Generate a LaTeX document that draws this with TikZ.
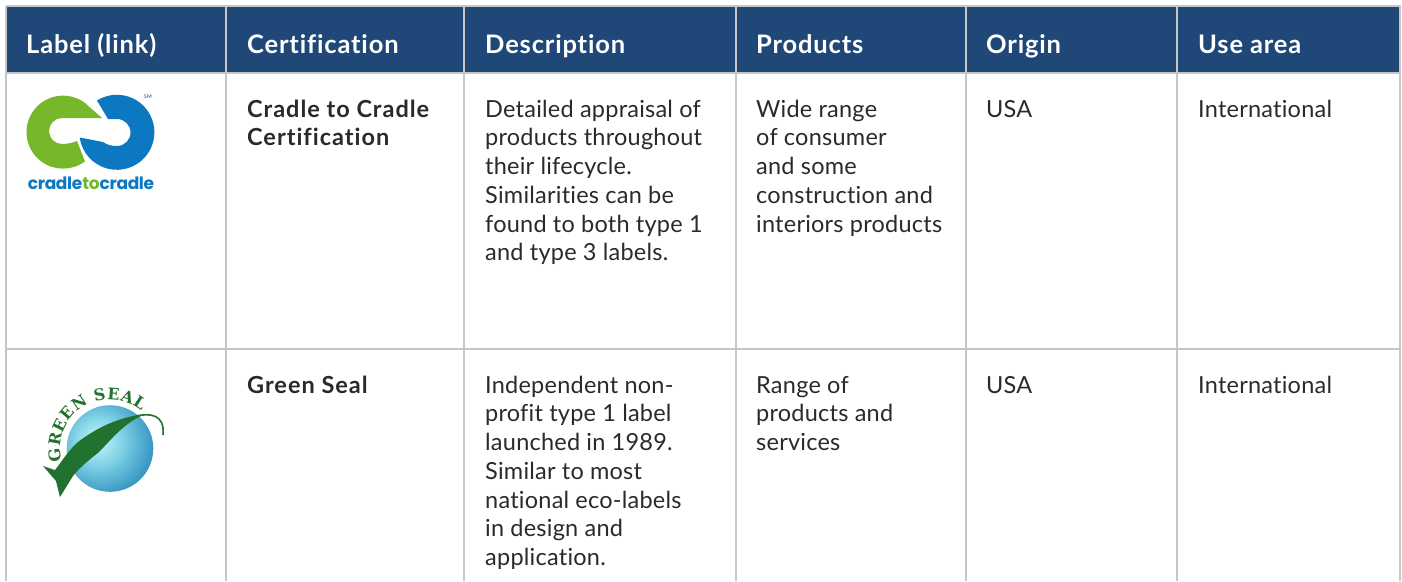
\documentclass[tikz,border=0pt]{standalone}
\usepackage{fontspec}
\setmainfont[Ligatures=NoCommon,LetterSpace=1]{Lato}
\newfontfamily\headf[Ligatures=NoCommon,LetterSpace=3.3]{Lato}
\newfontfamily\boldf[Ligatures=NoCommon,LetterSpace=4.2]{Lato}
\newfontfamily\logof[LetterSpace=-2]{Poppins}
\newfontfamily\sealf{DejaVu Serif}
\usetikzlibrary{decorations.text}
\definecolor{hdr}{HTML}{1F4878}
\definecolor{rulec}{HTML}{C4C6C8}
\definecolor{ink}{HTML}{2A2A2C}
\definecolor{cgreen}{HTML}{76B82A}
\definecolor{cblue}{HTML}{0C78C2}
\definecolor{sgreen}{HTML}{22722F}
\definecolor{globea}{HTML}{CCF4FA}
\definecolor{globeb}{HTML}{84D6E8}
\definecolor{globec}{HTML}{3A98C4}
\definecolor{globed}{HTML}{155F92}
\pgfdeclareradialshading{globeshade}{\pgfpoint{-8bp}{5bp}}{
  color(0bp)=(globea);
  color(13bp)=(globeb);
  color(30bp)=(globec);
  color(52bp)=(globed);
  color(100bp)=(globed)}
\tikzset{
  headtext/.style={anchor=base west,inner sep=0pt,text=white,font=\headf\fontsize{25.5}{28}\selectfont\bfseries},
  cell/.style={anchor=north west,inner sep=0pt,align=left,text=ink,font=\fontsize{23.5}{28.7}\selectfont},
  boldcell/.style={cell,font=\boldf\fontsize{23.5}{28.7}\selectfont\bfseries},
  gridline/.style={draw=rulec,line width=1.4pt},
}
\begin{document}
\begin{tikzpicture}[x=1pt,y=-1pt]
\useasboundingbox (0,0) rectangle (1402,581);
\fill[white] (0,0) rectangle (1402,581);
\fill[hdr] (6,6) rectangle (1400,73);
\draw[gridline] (5.5,6) -- (1400.5,6);
\draw[gridline] (5.5,73) -- (1400.5,73);
\draw[gridline] (5.5,349) -- (1400.5,349);
\foreach \x in {6,226,464,736,966,1177,1400}{
  \draw[gridline] (\x,6) -- (\x,581);
}
\node[headtext] (h1) at (26,53) {Label (link)};
\node[headtext] (h2) at (247,53) {Certification};
\node[headtext] (h3) at (485,53) {Description};
\node[headtext] (h4) at (756,53) {Products};
\node[headtext] (h5) at (986,53) {Origin};
\node[headtext] (h6) at (1198,53) {Use area};
% row 1
\node[boldcell] (c1) at (247,97) {\strut Cradle to Cradle\\Certification};
\node[cell] (d1) at (485,97) {\strut Detailed appraisal of\\products throughout\\their lifecycle.\\Similarities can be\\found to both type 1\\and type 3 labels.};
\node[cell] (p1) at (756,97) {\strut Wide range\\of consumer\\and some\\construction and\\interiors products};
\node[cell] (o1) at (986,97) {\strut USA};
\node[cell] (u1) at (1198,97) {\strut International};
% row 2
\node[boldcell] (c2) at (247,373) {\strut Green Seal};
\node[cell] (d2) at (485,373) {\strut Independent non-\\profit type 1 label\\launched in 1989.\\Similar to most\\national eco-labels\\in design and\\application.};
\node[cell] (p2) at (756,373) {\strut Range of\\products and\\services};
\node[cell] (o2) at (986,373) {\strut USA};
\node[cell] (u2) at (1198,373) {\strut International};
% cradle logo
\fill[cgreen] (85,103) arc (53:307:36.5pt) -- (77,141) .. controls (72,143) and (67,144) .. (62,144) arc (270:90:13pt) -- (102,118) -- cycle;
\fill[cblue] (97,100.5) arc (122:-172:37.5pt) -- (103,142) .. controls (107,145) and (112,146) .. (117,146) arc (270:450:13.5pt) -- (108,119) -- cycle;
\node[inner sep=0pt,font=\logof\fontsize{17}{18}\selectfont\bfseries,text=cblue] (logotext) at (91,183) {cradle\textcolor{cgreen}{to}cradle};
\node[inner sep=0pt,font=\fontsize{5}{6}\selectfont\bfseries,text=cblue!70!gray] (sm) at (148,97) {SM};
% green seal logo
\path[shading=globeshade] (110,448.5) circle (43.3pt);
\fill[sgreen] (43,466) -- (55,470) .. controls (62,461) and (68,451) .. (78,442) .. controls (95,429) and (115,419) .. (138,415) -- (141,416) .. controls (122,425) and (110,441) .. (99,452) .. controls (89,460) and (79,468) .. (73,476) -- (60,497) -- (56,481) -- cycle;
\draw[sgreen,line width=1.6pt] (136,416) .. controls (150,413) and (165,414) .. (163,435);
\path[postaction={decorate,decoration={text along path,text align={fit to path},text={|\sealf\bfseries\fontsize{16}{18}\selectfont\color{sgreen}|GREEN SEAL}}}] (61.5,461) arc (194:50:49.5pt);
\end{tikzpicture}
\end{document}
